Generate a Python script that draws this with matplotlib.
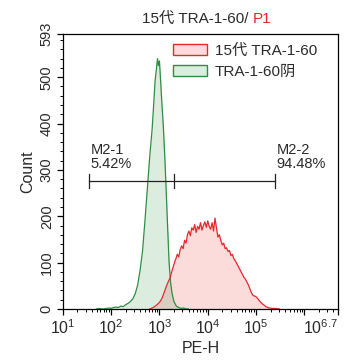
import numpy as np
import matplotlib
matplotlib.use("Agg")
import matplotlib.pyplot as plt
import matplotlib.transforms as mtransforms
from matplotlib.patches import Patch

plt.rcParams['font.family'] = ['Liberation Sans', 'Noto Sans CJK SC', 'DejaVu Sans']
plt.rcParams['mathtext.fontset'] = 'custom'
plt.rcParams['mathtext.rm'] = 'Liberation Sans'
plt.rcParams['mathtext.it'] = 'Liberation Sans'

# histogram data, x given as log10(PE-H)
green_log = [1.70, 1.75, 1.80, 1.85, 1.90, 1.95, 2.00, 2.05, 2.10, 2.15, 2.20, 2.25,
             2.30, 2.35, 2.40, 2.45, 2.50, 2.55, 2.60, 2.65, 2.70, 2.75, 2.80, 2.85,
             2.88, 2.91, 2.94, 2.96, 2.98, 3.00, 3.02, 3.05, 3.08, 3.11, 3.14, 3.17,
             3.20, 3.23, 3.26, 3.30, 3.35, 3.40, 3.45, 3.50, 3.55, 3.60]
green_count = [0, 1, 0, 0, 1, 2, 1, 3, 4, 3, 6, 5,
               9, 12, 16, 22, 33, 52, 84, 125, 190, 260, 330, 390,
               440, 492, 520, 540, 525, 535, 500, 445, 395, 330, 255, 175,
               100, 58, 34, 16, 6, 3, 1, 2, 0, 0]

red_log = [2.80, 2.85, 2.90, 2.95, 3.00, 3.05, 3.10, 3.14, 3.18, 3.22, 3.26, 3.30,
           3.34, 3.37, 3.40, 3.43, 3.46, 3.49, 3.52, 3.55, 3.58, 3.61, 3.64, 3.67,
           3.70, 3.73, 3.76, 3.79, 3.82, 3.85, 3.88, 3.91, 3.94, 3.97, 4.00, 4.03,
           4.06, 4.09, 4.12, 4.15, 4.18, 4.21, 4.24, 4.27, 4.30, 4.33, 4.36, 4.39,
           4.42, 4.45, 4.48, 4.51, 4.54, 4.57, 4.60, 4.63, 4.66, 4.69, 4.72, 4.75,
           4.78, 4.81, 4.84, 4.87, 4.90, 4.93, 4.96, 4.99, 5.02, 5.05, 5.08, 5.11,
           5.14, 5.17, 5.20, 5.24, 5.28, 5.33, 5.40, 5.48]
red_count = [0, 2, 5, 9, 14, 22, 36, 48, 58, 67, 82, 96,
             108, 118, 112, 128, 136, 130, 148, 142, 160, 168, 158, 175,
             170, 182, 165, 178, 172, 186, 170, 180, 188, 176, 190, 178,
             172, 186, 168, 196, 175, 155, 160, 148, 138, 142, 130, 132,
             124, 126, 115, 118, 108, 104, 98, 92, 86, 80, 74, 68,
             64, 58, 52, 44, 36, 30, 28, 27, 24, 20, 16, 13,
             10, 8, 5, 3, 2, 1, 1, 0]

series_names = ['15代 TRA-1-60', 'TRA-1-60阴']
gate_log = [1.54, 3.30, 5.39]
gate_y = 276
gate_labels = ['M2-1\n5.42%', 'M2-2\n94.48%']

tick_exps = [1, 2, 3, 4, 5, 6, 6.7]
tick_text = [r'$\mathregular{10^{1}}$', r'$\mathregular{10^{2}}$', r'$\mathregular{10^{3}}$',
             r'$\mathregular{10^{4}}$', r'$\mathregular{10^{5}}$', '', r'$\mathregular{10^{6.7}}$']

red_line = '#e8262e'
green_line = '#2f8d40'
txt = '#2a2a2a'

fig = plt.figure(figsize=(3.53, 3.63), dpi=100)
ax = fig.add_axes([0.178, 0.149, 0.78, 0.757])

rx = 10 ** np.array(red_log)
gx = 10 ** np.array(green_log)
ax.fill_between(rx, red_count, color=(0.94, 0.31, 0.31), alpha=0.2, lw=0)
ax.fill_between(gx, green_count, color=(0.24, 0.59, 0.31), alpha=0.18, lw=0)
ax.plot(gx, green_count, color=green_line, lw=0.9)
ax.plot(rx, red_count, color=red_line, lw=0.9)

ax.set_xscale('log')
ax.set_xlim(10, 10 ** 6.7)
ax.set_ylim(0, 593)

# gates
gx_pos = [10 ** g for g in gate_log]
ax.plot([gx_pos[0], gx_pos[-1]], [gate_y, gate_y], color='#222222', lw=0.9)
for x in gx_pos:
    ax.plot([x, x], [gate_y - 16, gate_y + 16], color='#222222', lw=0.9)
for x, lab in zip([gx_pos[0], gx_pos[-1]], gate_labels):
    ax.annotate(lab, xy=(x, gate_y), xytext=(1, 7), textcoords='offset points',
                ha='left', va='bottom', fontsize=10.5, color=txt, linespacing=1.0)

# ticks
ax.set_xticks([10 ** e for e in tick_exps])
ax.set_xticklabels(tick_text, fontsize=11.5, color=txt)
minors = [m * 10 ** d for d in range(1, 7) for m in range(2, 10) if m * 10 ** d < 10 ** 6.7]
ax.set_xticks(minors, minor=True)
# keep the last label (at the right edge) inside the picture
last = ax.get_xticklabels()[-1]
last.set_horizontalalignment('right')
last.set_transform(last.get_transform() +
                   mtransforms.ScaledTranslation(13 / 100, 0, fig.dpi_scale_trans))
ax.set_yticks([0, 100, 200, 300, 400, 500, 593])
ax.set_yticks(np.arange(0, 593, 20), minor=True)
ax.set_yticklabels(['0', '100', '200', '300', '400', '500', '593'], rotation=90,
                   va='center', fontsize=10.5, color=txt,
                   family=['Liberation Sans Narrow', 'Liberation Sans'])
ax.tick_params(which='major', direction='out', length=4.5, width=0.9, pad=2)
ax.tick_params(which='minor', direction='out', length=2.2, width=0.7)
for s in ax.spines.values():
    s.set_linewidth(0.9)

ax.set_xlabel('PE-H', fontsize=11.5, color=txt, labelpad=3)
ax.set_ylabel('Count', fontsize=11.5, color=txt, labelpad=3)

t1 = ax.text(0.49, 1.03, '15代 TRA-1-60/ ', transform=ax.transAxes, ha='center',
             va='bottom', fontsize=11, color=txt)
ax.annotate('P1', xy=(1, 0), xycoords=t1, ha='left', va='bottom', fontsize=11, color='#e8262e')

handles = [Patch(facecolor='#fbdcdc', edgecolor=red_line, lw=1),
           Patch(facecolor='#dcecdf', edgecolor=green_line, lw=1)]
ax.legend(handles, series_names, loc='upper left', bbox_to_anchor=(0.4, 0.965),
          frameon=False, fontsize=11, handlelength=2.2, handleheight=0.7,
          handletextpad=0.55, labelspacing=0.45, borderpad=0, borderaxespad=0,
          labelcolor=txt)

fig.savefig('out.png', dpi=100)
